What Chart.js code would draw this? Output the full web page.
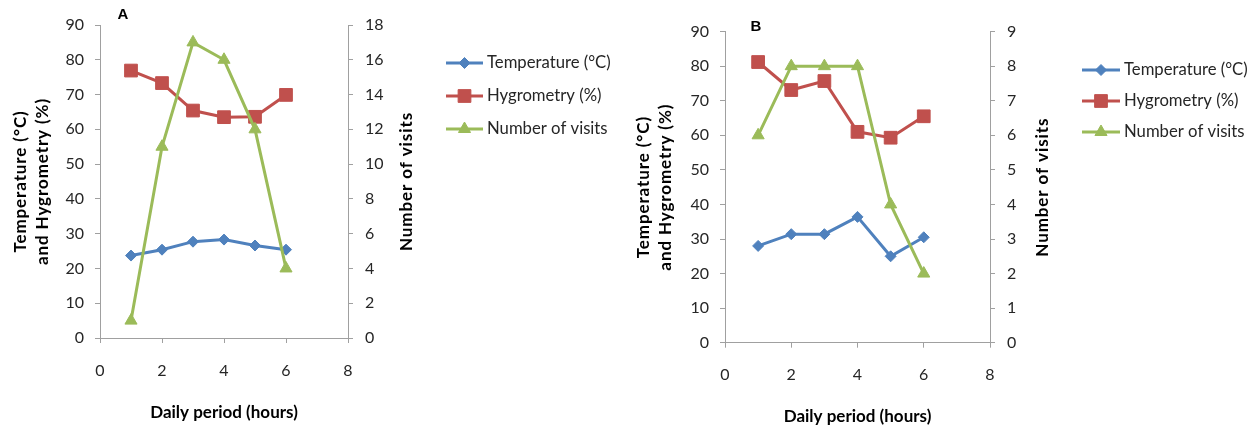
<!DOCTYPE html>
<html><head><meta charset="utf-8">
<script src="https://cdn.jsdelivr.net/npm/chart.js@4"></script>
<style>
html,body{margin:0;padding:0;background:#fff;}
body{width:1260px;height:427px;position:relative;overflow:hidden;}
.panel{position:absolute;top:0;width:630px;height:427px;}
</style></head><body>
<div class="panel" style="left:0"><canvas id="cA" width="630" height="427"></canvas></div>
<div class="panel" style="left:630px"><canvas id="cB" width="630" height="427"></canvas></div>
<script>
// ---- data ----
const hours = [1, 2, 3, 4, 5, 6];
const seriesNames = ['Temperature (°C)', 'Hygrometry (%)', 'Number of visits'];
const temperatureA = [23.7, 25.4, 27.7, 28.3, 26.6, 25.4];
const hygrometryA = [76.9, 73.3, 65.4, 63.5, 63.6, 69.9];
const visitsA = [1, 11, 17, 16, 12, 4];
const temperatureB = [28.0, 31.4, 31.4, 36.4, 25.0, 30.5];
const hygrometryB = [81.2, 73.1, 75.7, 61.0, 59.3, 65.5];
const visitsB = [6, 8, 8, 8, 4, 2];
const xRange = [0, 8, 2];          // min, max, step
const leftRange = [0, 90, 10];
const rightRangeA = [0, 18, 2];
const rightRangeB = [0, 9, 1];
const xTitle = 'Daily period (hours)';
const leftTitle = ['Temperature (°C)', 'and Hygrometry (%)'];
const rightTitle = 'Number of visits';

// ---- styles ----
const COLORS = ['#4F81BD', '#C0504D', '#9BBB59'];
const STYLES = ['rectRot', 'rect', 'triangle'];
const RADII = [5.5, 9, 7];
const AXIS = '#A0A0A0';
const TEXT = '#262626';
const FONT = 'Lato, "Open Sans", sans-serif';

const legendPlugin = {
  id: 'sideLegend',
  afterDraw(chart, args, o) {
    const ctx = chart.ctx;
    ctx.save();
    chart.data.datasets.forEach((ds, i) => {
      const y = o.rows[i];
      ctx.strokeStyle = ds.borderColor;
      ctx.lineWidth = ds.borderWidth;
      ctx.beginPath(); ctx.moveTo(o.x1, y); ctx.lineTo(o.x2, y); ctx.stroke();
      ctx.fillStyle = ds.pointBackgroundColor;
      ctx.strokeStyle = ds.pointBorderColor;
      ctx.lineWidth = 1;
      Chart.helpers.drawPoint(ctx, {pointStyle: ds.pointStyle, rotation: 0, radius: ds.pointRadius, borderWidth: 1}, (o.x1 + o.x2) / 2, y);
      ctx.fillStyle = TEXT;
      ctx.font = '16.7px ' + FONT;
      ctx.textAlign = 'left';
      ctx.textBaseline = 'middle';
      ctx.fillText(ds.label, o.textX, y);
    });
    ctx.restore();
  }
};

// panel letter and vertical axis titles (both read bottom-to-top)
const labelPlugin = {
  id: 'panelLabel',
  afterDraw(chart, args, o) {
    const ctx = chart.ctx;
    const ca = chart.chartArea;
    const cy = (ca.top + ca.bottom) / 2;
    ctx.save();
    ctx.fillStyle = '#000';
    ctx.font = 'bold 15px "Liberation Sans", Arial, sans-serif';
    ctx.textAlign = 'center';
    ctx.textBaseline = 'middle';
    ctx.fillText(o.text, o.x, o.y);

    ctx.font = 'bold 17px ' + FONT;
    ctx.letterSpacing = '0.9px';
    const rot = (txt, x) => {
      ctx.save();
      ctx.translate(x, cy);
      ctx.rotate(-Math.PI / 2);
      ctx.fillText(txt, 0, 0);
      ctx.restore();
    };
    leftTitle.forEach((t, i) => rot(t, o.leftX[i]));
    rot(rightTitle, ca.right + o.rightOff);
    ctx.restore();
  }
};

function makeDataset(i, values, axis) {
  return {
    label: seriesNames[i],
    data: hours.map((h, k) => ({x: h, y: values[k]})),
    yAxisID: axis,
    borderColor: COLORS[i],
    backgroundColor: COLORS[i],
    pointBackgroundColor: COLORS[i],
    pointBorderColor: COLORS[i],
    borderWidth: 3,
    pointBorderWidth: 1,
    pointStyle: STYLES[i],
    pointRadius: RADII[i],
    tension: 0,
    order: 2 - i
  };
}

function grid() {
  return {drawOnChartArea: false, drawTicks: true, tickLength: 5, color: AXIS, lineWidth: 1};
}

function build(id, p) {
  return new Chart(document.getElementById(id), {
    type: 'line',
    data: {datasets: [
      makeDataset(0, p.temp, 'y'),
      makeDataset(1, p.hyg, 'y'),
      makeDataset(2, p.vis, 'y1')
    ]},
    options: {
      responsive: false,
      animation: false,
      events: [],
      layout: {padding: {top: p.top, left: 0, right: p.padRight, bottom: 0}},
      plugins: {
        legend: {display: false},
        tooltip: {enabled: false},
        sideLegend: p.legend,
        panelLabel: p.label
      },
      scales: {
        x: {
          type: 'linear', position: 'bottom',
          min: xRange[0], max: xRange[1],
          ticks: {stepSize: xRange[2], padding: p.xPad, color: TEXT, font: {family: FONT, size: 16}},
          grid: grid(),
          border: {color: AXIS, width: 1},
          title: {display: true, text: xTitle, color: '#000', font: {family: FONT, size: 17, weight: 'bold'}, padding: {top: 0, bottom: p.xTitlePad}},
          afterFit: s => { s.height = p.xHeight; }
        },
        y: {
          position: 'left',
          min: leftRange[0], max: leftRange[1],
          ticks: {stepSize: leftRange[2], padding: 11, color: TEXT, font: {family: FONT, size: 16}},
          grid: grid(),
          border: {color: AXIS, width: 1},
          title: {display: false},
          afterFit: s => { s.width = p.leftW; }
        },
        y1: {
          position: 'right',
          min: p.rRange[0], max: p.rRange[1],
          ticks: {stepSize: p.rRange[2], padding: 12, color: TEXT, font: {family: FONT, size: 16}},
          grid: grid(),
          border: {color: AXIS, width: 1},
          title: {display: false},
          afterFit: s => { s.width = p.rightW; }
        }
      }
    },
    plugins: [legendPlugin, labelPlugin]
  });
}

build('cA', {
  temp: temperatureA, hyg: hygrometryA, vis: visitsA, rRange: rightRangeA,
  top: 25, padRight: 210, leftW: 100, rightW: 72, xHeight: 89, xPad: 18, xTitlePad: 4.5,
  legend: {x1: 446, x2: 483, textX: 487, rows: [63, 96, 129]},
  label: {text: 'A', x: 123, y: 15, leftX: [21, 43], rightOff: 59}
});
build('cB', {
  temp: temperatureB, hyg: hygrometryB, vis: visitsB, rRange: rightRangeB,
  top: 31.6, padRight: 204, leftW: 95, rightW: 66, xHeight: 84.3, xPad: 18, xTitlePad: 0.5,
  legend: {x1: 452, x2: 490, textX: 494, rows: [70, 101, 132]},
  label: {text: 'B', x: 126, y: 27, leftX: [14, 36], rightOff: 53}
});
</script>
</body></html>
